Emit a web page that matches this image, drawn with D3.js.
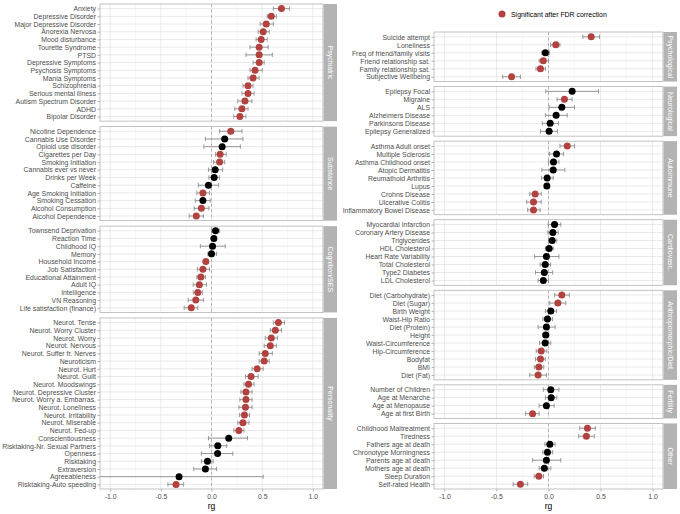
<!DOCTYPE html>
<html lang="en">
  <head>
    <meta charset="UTF-8" />
    <title>Genetic correlations (rg)</title>
    <script src="https://d3js.org/d3.v7.min.js"></script>
    <style>
      body { margin: 0; background: #fff; }
      text { font-family: "Liberation Sans", Arial, sans-serif; }
      .grid-major { stroke: #dcdcdc; stroke-width: 0.6px; }
      .grid-minor { stroke: #ebebeb; stroke-width: 0.4px; }
      .border { fill: none; stroke: #b3b3b3; stroke-width: 0.8px; }
      .zero { stroke: #a6a6a6; stroke-width: 0.8px; stroke-dasharray: 3,2.5; }
      .ebar { stroke: #8f8f8f; stroke-width: 0.9px; }
      .axis text { fill: #4d4d4d; font-size: 6.9px; }
      .axis line { stroke: #b3b3b3; }
      .axis path { display: none; }
      .strip { fill: #b3b3b3; }
      .strip-label { fill: #fff; font-size: 7px; }
    </style>
  </head>

  <body>
    <svg id="chart" width="680" height="514"></svg>
    <script>
      // [trait, rg, lower, upper, significant after FDR]
      const psychiatric = [
        ["Anxiety", 0.69, 0.61, 0.77, 1],
        ["Depressive Disorder", 0.59, 0.55, 0.64, 1],
        ["Major Depressive Disorder", 0.54, 0.48, 0.61, 1],
        ["Anorexia Nervosa", 0.51, 0.46, 0.57, 1],
        ["Mood disturbance", 0.49, 0.44, 0.55, 1],
        ["Tourette Syndrome", 0.47, 0.38, 0.56, 1],
        ["PTSD", 0.47, 0.34, 0.60, 1],
        ["Depressive Symptoms", 0.47, 0.41, 0.52, 1],
        ["Psychosis Symptoms", 0.43, 0.38, 0.50, 1],
        ["Mania Symptoms", 0.41, 0.36, 0.47, 1],
        ["Schizophrenia", 0.36, 0.31, 0.41, 1],
        ["Serious mental illness", 0.36, 0.30, 0.42, 1],
        ["Autism Spectrum Disorder", 0.33, 0.26, 0.40, 1],
        ["ADHD", 0.30, 0.23, 0.36, 1],
        ["Bipolar Disorder", 0.28, 0.22, 0.34, 1]
      ];
      const substance = [
        ["Nicotine Dependence", 0.19, 0.08, 0.30, 1],
        ["Cannabis Use Disorder", 0.13, -0.06, 0.31, 0],
        ["Opioid use disorder", 0.105, -0.075, 0.285, 0],
        ["Cigarettes per Day", 0.085, 0.04, 0.145, 1],
        ["Smoking Initiation", 0.08, 0.02, 0.13, 1],
        ["Cannabis ever vs never", 0.036, -0.03, 0.11, 0],
        ["Drinks per Week", 0.026, -0.026, 0.08, 0],
        ["Caffeine", -0.03, -0.13, 0.07, 0],
        ["Age Smoking Initiation", -0.085, -0.145, -0.02, 1],
        ["Smoking Cessation", -0.085, -0.16, -0.013, 0],
        ["Alcohol Consumption", -0.10, -0.17, -0.026, 1],
        ["Alcohol Dependence", -0.15, -0.22, -0.08, 1]
      ];
      const cognition = [
        ["Townsend Deprivation", 0.04, 0.0, 0.08, 0],
        ["Reaction Time", 0.023, 0.003, 0.046, 0],
        ["Childhood IQ", 0.01, -0.11, 0.135, 0],
        ["Memory", 0.0, -0.036, 0.05, 0],
        ["Household Income", -0.056, -0.08, -0.03, 1],
        ["Job Satisfaction", -0.085, -0.14, -0.02, 1],
        ["Educational Attainment", -0.105, -0.145, -0.06, 1],
        ["Adult IQ", -0.12, -0.18, -0.05, 1],
        ["Intelligence", -0.135, -0.18, -0.09, 1],
        ["VN Reasoning", -0.155, -0.23, -0.08, 1],
        ["Life satisfaction (finance)", -0.20, -0.27, -0.135, 1]
      ];
      const personality = [
        ["Neurot. Tense", 0.66, 0.61, 0.72, 1],
        ["Neurot. Worry Cluster", 0.63, 0.58, 0.69, 1],
        ["Neurot. Worry", 0.59, 0.53, 0.65, 1],
        ["Neurot. Nervous", 0.58, 0.52, 0.64, 1],
        ["Neurot. Suffer fr. Nerves", 0.53, 0.47, 0.60, 1],
        ["Neuroticism", 0.52, 0.47, 0.57, 1],
        ["Neurot. Hurt", 0.45, 0.40, 0.51, 1],
        ["Neurot. Guilt", 0.39, 0.335, 0.46, 1],
        ["Neurot. Moodswings", 0.365, 0.32, 0.42, 1],
        ["Neurot. Depressive Cluster", 0.34, 0.29, 0.40, 1],
        ["Neurot. Worry a. Embarras.", 0.34, 0.28, 0.40, 1],
        ["Neurot. Loneliness", 0.335, 0.27, 0.40, 1],
        ["Neurot. Irritability", 0.325, 0.275, 0.375, 1],
        ["Neurot. Miserable", 0.31, 0.26, 0.37, 1],
        ["Neurot. Fed-up", 0.27, 0.22, 0.32, 1],
        ["Conscientiousness", 0.17, -0.03, 0.355, 0],
        ["Risktaking-Nr. Sexual Partners", 0.062, -0.02, 0.15, 0],
        ["Openness", 0.06, -0.10, 0.21, 0],
        ["Risktaking", -0.04, -0.10, 0.016, 0],
        ["Extraversion", -0.06, -0.175, 0.05, 0],
        ["Agreeableness", -0.32, -1.2, 0.51, 0],
        ["Risktaking-Auto speeding", -0.35, -0.43, -0.275, 1]
      ];
      const psychological = [
        ["Suicide attempt", 0.41, 0.33, 0.49, 1],
        ["Loneliness", 0.07, 0.02, 0.11, 1],
        ["Freq of friend/family visits", -0.03, -0.065, 0.01, 0],
        ["Friend relationship sat.", -0.05, -0.09, 0.0, 1],
        ["Family relationship sat.", -0.077, -0.12, -0.03, 1],
        ["Subjective Wellbeing", -0.355, -0.44, -0.27, 1]
      ];
      const neurological = [
        ["Epilepsy Focal", 0.227, -0.026, 0.48, 0],
        ["Migraine", 0.153, 0.083, 0.227, 1],
        ["ALS", 0.128, 0.006, 0.25, 0],
        ["Alzheimers Disease", 0.073, -0.03, 0.18, 0],
        ["Parkinsons Disease", 0.016, -0.06, 0.096, 0],
        ["Epilepsy Generalized", 0.006, -0.077, 0.086, 0]
      ];
      const autoimmune = [
        ["Asthma Adult onset", 0.18, 0.11, 0.25, 1],
        ["Multiple Sclerosis", 0.077, 0.01, 0.144, 0],
        ["Asthma Childhood onset", 0.048, 0.0, 0.10, 0],
        ["Atopic Dermatitis", 0.045, -0.064, 0.157, 0],
        ["Reumathoid Arthritis", -0.013, -0.067, 0.045, 0],
        ["Lupus", -0.016, -0.038, 0.01, 0],
        ["Crohns Disease", -0.128, -0.18, -0.07, 1],
        ["Ulcerative Colitis", -0.144, -0.21, -0.07, 1],
        ["Inflammatory Bowel Disease", -0.144, -0.20, -0.08, 1]
      ];
      const cardiovasc = [
        ["Myocardial Infarction", 0.058, -0.003, 0.118, 0],
        ["Coronary Artery Disease", 0.042, -0.006, 0.093, 0],
        ["Triglycerides", 0.035, 0.0, 0.08, 0],
        ["HDL Cholesterol", 0.006, -0.03, 0.045, 0],
        ["Heart Rate Variability", -0.02, -0.134, 0.10, 0],
        ["Total Cholesterol", -0.032, -0.08, 0.02, 0],
        ["Type2 Diabetes", -0.04, -0.125, 0.04, 0],
        ["LDL Cholesterol", -0.05, -0.10, 0.0, 0]
      ];
      const anthropoDiet = [
        ["Diet (Carbohydrate)", 0.128, 0.06, 0.20, 1],
        ["Diet (Sugar)", 0.09, 0.013, 0.166, 1],
        ["Birth Weight", 0.022, -0.03, 0.077, 0],
        ["Waist-Hip Ratio", -0.01, -0.054, 0.038, 0],
        ["Diet (Protein)", -0.02, -0.10, 0.064, 0],
        ["Height", -0.026, -0.054, 0.003, 0],
        ["Waist-Circumference", -0.032, -0.086, 0.022, 0],
        ["Hip-Circumference", -0.07, -0.118, -0.016, 1],
        ["Bodyfat", -0.077, -0.125, -0.03, 1],
        ["BMI", -0.093, -0.137, -0.045, 1],
        ["Diet (Fat)", -0.10, -0.18, -0.02, 1]
      ];
      const fertility = [
        ["Number of Children", 0.022, -0.05, 0.10, 0],
        ["Age at Menarche", 0.026, -0.03, 0.08, 0],
        ["Age at Menopause", -0.02, -0.09, 0.054, 0],
        ["Age at first Birth", -0.153, -0.22, -0.09, 1]
      ];
      const other = [
        ["Childhood Maltreatment", 0.374, 0.30, 0.45, 1],
        ["Tiredness", 0.364, 0.29, 0.44, 1],
        ["Fathers age at death", 0.013, -0.035, 0.064, 0],
        ["Chronotype Morningness", -0.01, -0.054, 0.04, 0],
        ["Parents age at death", -0.02, -0.153, 0.118, 0],
        ["Mothers age at death", -0.04, -0.09, 0.022, 0],
        ["Sleep Duration", -0.093, -0.137, -0.048, 1],
        ["Self-rated Health", -0.27, -0.34, -0.20, 1]
      ];

      const xTicks = [-1, -0.5, 0, 0.5, 1];
      const xMinor = [-0.75, -0.25, 0.25, 0.75];
      const sigColor = "#b2423f";

      const columns = [
        {
          x0: 100, x1: 323, top: 4, bottom: 489, gap: 5.5,
          facets: [
            { name: "Psychiatric", rows: psychiatric },
            { name: "Substance", rows: substance },
            { name: "Cognition/SES", rows: cognition },
            { name: "Personality", rows: personality }
          ]
        },
        {
          x0: 434, x1: 663, top: 32, bottom: 489, gap: 5,
          facets: [
            { name: "Psychological", rows: psychological },
            { name: "Neurological", rows: neurological },
            { name: "Autoimmune", rows: autoimmune },
            { name: "Cardiovasc.", rows: cardiovasc },
            { name: "Anthropomorphic/Diet", rows: anthropoDiet },
            { name: "Fertility", rows: fertility },
            { name: "Other", rows: other }
          ]
        }
      ];

      const svg = d3.select("#chart");
      let clipId = 0;

      columns.forEach(col => {
        const x = d3.scaleLinear().domain([-1.1, 1.1]).range([col.x0, col.x1]);
        const totalUnits = d3.sum(col.facets, f => f.rows.length + 0.2);
        const unit = (col.bottom - col.top - col.gap * (col.facets.length - 1)) / totalUnits;
        let yTop = col.top;

        col.facets.forEach(f => {
          const h = (f.rows.length + 0.2) * unit;
          const y = d3.scalePoint()
            .domain(f.rows.map(d => d[0]))
            .range([yTop, yTop + h])
            .padding(0.6);
          const g = svg.append("g");
          const id = "clip" + (clipId++);
          g.append("clipPath").attr("id", id)
            .append("rect")
            .attr("x", col.x0).attr("y", yTop)
            .attr("width", col.x1 - col.x0).attr("height", h);

          // grid
          g.selectAll("line.vmin").data(xMinor).join("line")
            .attr("class", "grid-minor")
            .attr("x1", d => x(d)).attr("x2", d => x(d))
            .attr("y1", yTop).attr("y2", yTop + h);
          g.selectAll("line.vmaj").data(xTicks).join("line")
            .attr("class", "grid-major")
            .attr("x1", d => x(d)).attr("x2", d => x(d))
            .attr("y1", yTop).attr("y2", yTop + h);
          g.selectAll("line.hmaj").data(f.rows).join("line")
            .attr("class", "grid-major")
            .attr("x1", col.x0).attr("x2", col.x1)
            .attr("y1", d => y(d[0])).attr("y2", d => y(d[0]));

          g.append("line").attr("class", "zero")
            .attr("x1", x(0)).attr("x2", x(0))
            .attr("y1", yTop).attr("y2", yTop + h);

          // error bars
          const bars = g.append("g").attr("clip-path", `url(#${id})`);
          bars.selectAll("line.eb").data(f.rows).join("line")
            .attr("class", "ebar")
            .attr("x1", d => x(d[2])).attr("x2", d => x(d[3]))
            .attr("y1", d => y(d[0])).attr("y2", d => y(d[0]));
          const caps = f.rows.flatMap(d => [[d[0], d[2]], [d[0], d[3]]]);
          bars.selectAll("line.cap").data(caps).join("line")
            .attr("class", "ebar")
            .attr("x1", d => x(d[1])).attr("x2", d => x(d[1]))
            .attr("y1", d => y(d[0]) - 2.2).attr("y2", d => y(d[0]) + 2.2);

          // points
          g.selectAll("circle").data(f.rows).join("circle")
            .attr("cx", d => x(d[1]))
            .attr("cy", d => y(d[0]))
            .attr("r", 3.5)
            .attr("fill", d => d[4] ? sigColor : "#000");

          g.append("rect").attr("class", "border")
            .attr("x", col.x0).attr("y", yTop)
            .attr("width", col.x1 - col.x0).attr("height", h);

          // y axis
          g.append("g").attr("class", "axis")
            .attr("transform", `translate(${col.x0},0)`)
            .call(d3.axisLeft(y).tickSize(2.5).tickPadding(1.5));

          // strip
          g.append("rect").attr("class", "strip")
            .attr("x", col.x1 + 0.5).attr("y", yTop)
            .attr("width", 13.5).attr("height", h);
          g.append("text").attr("class", "strip-label")
            .attr("transform", `translate(${col.x1 + 7.25},${yTop + h / 2}) rotate(90)`)
            .attr("text-anchor", "middle")
            .attr("dominant-baseline", "central")
            .text(f.name);

          yTop += h + col.gap;
        });

        svg.append("g").attr("class", "axis")
          .attr("transform", `translate(0,${col.bottom})`)
          .call(d3.axisBottom(x).tickValues(xTicks)
            .tickFormat(d => d.toFixed(1)).tickSize(2.5).tickPadding(2.5));

        svg.append("text")
          .attr("x", x(0)).attr("y", col.bottom + 20)
          .attr("text-anchor", "middle")
          .attr("font-size", 8.5)
          .attr("fill", "#000")
          .text("rg");
      });

      // legend
      const legend = svg.append("g").attr("transform", "translate(502,14)");
      legend.append("circle").attr("r", 3.5).attr("fill", sigColor);
      legend.append("text")
        .attr("x", 9).attr("dominant-baseline", "central")
        .attr("font-size", 6.9).attr("fill", "#000")
        .text("Significant after FDR correction");
    </script>
  </body>
</html>
